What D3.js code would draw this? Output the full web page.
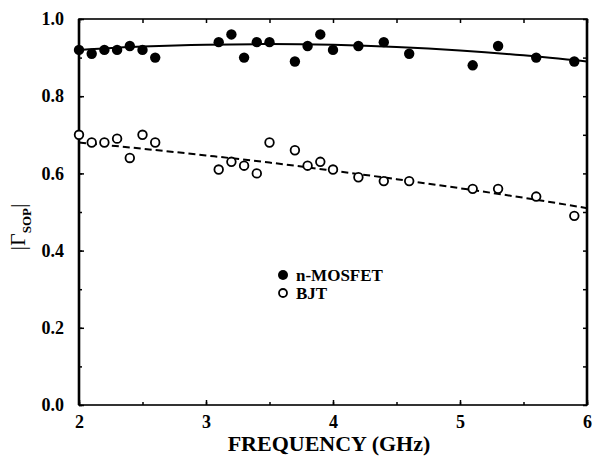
<!DOCTYPE html>
<html>
<head>
<meta charset="utf-8">
<script src="https://cdn.jsdelivr.net/npm/d3@7"></script>
<style>
  html, body { margin: 0; padding: 0; background: #fff; }
  svg { display: block; }
  text { font-family: "Liberation Serif", "Times New Roman", serif; font-weight: bold; fill: #000; }
</style>
</head>
<body>
<svg id="chart" width="592" height="457"></svg>
<script>
// ---- data ----
const freq = [2.0, 2.1, 2.2, 2.3, 2.4, 2.5, 2.6, 3.1, 3.2, 3.3, 3.4, 3.5, 3.7, 3.8, 3.9, 4.0, 4.2, 4.4, 4.6, 5.1, 5.3, 5.6, 5.9];
const mosfet = [0.92, 0.91, 0.92, 0.92, 0.93, 0.92, 0.90, 0.94, 0.96, 0.90, 0.94, 0.94, 0.89, 0.93, 0.96, 0.92, 0.93, 0.94, 0.91, 0.88, 0.93, 0.90, 0.89];
const bjt = [0.70, 0.68, 0.68, 0.69, 0.64, 0.70, 0.68, 0.61, 0.63, 0.62, 0.60, 0.68, 0.66, 0.62, 0.63, 0.61, 0.59, 0.58, 0.58, 0.56, 0.56, 0.54, 0.49];
const fitX = [2.0, 2.5, 3.0, 3.5, 4.0, 4.5, 5.0, 5.5, 6.0];
const mosfetFit = [0.920, 0.9285, 0.9335, 0.935, 0.933, 0.9275, 0.9185, 0.906, 0.890];
const bjtFit = [0.680, 0.664, 0.6465, 0.628, 0.607, 0.585, 0.5615, 0.537, 0.510];
const xTicks = [2, 3, 4, 5, 6];
const yTicks = [0.0, 0.2, 0.4, 0.6, 0.8, 1.0];
const legendLabels = ["n-MOSFET", "BJT"];
const xTitle = "FREQUENCY (GHz)";

// ---- layout ----
const svg = d3.select("#chart");
const L = 79, R = 587, T = 19, B = 405;
const x = d3.scaleLinear().domain([2, 6]).range([L, R]);
const y = d3.scaleLinear().domain([0, 1]).range([B, T]);

const xMinor = d3.range(2, 6.001, 0.5);
const yMinor = d3.range(0, 1.001, 0.1).map(v => +v.toFixed(1));

// bottom axis
const gx = svg.append("g").attr("transform", `translate(0,${B})`)
  .call(d3.axisBottom(x).tickValues(xTicks).tickFormat(d3.format("d")).tickSize(-5).tickPadding(10));
gx.select(".domain").remove();
gx.attr("font-size", null).attr("font-family", null);
gx.selectAll("text").style("font-size", "18px");
svg.append("g").attr("transform", `translate(0,${B})`)
  .call(d3.axisBottom(x).tickValues(xMinor).tickFormat("").tickSize(-3))
  .select(".domain").remove();

// top axis ticks
svg.append("g").attr("transform", `translate(0,${T})`)
  .call(d3.axisTop(x).tickValues(xMinor).tickFormat("").tickSize(-4))
  .select(".domain").remove();

// left axis
const gy = svg.append("g").attr("transform", `translate(${L},0)`)
  .call(d3.axisLeft(y).tickValues(yTicks).tickFormat(d3.format(".1f")).tickSize(-5).tickPadding(15));
gy.select(".domain").remove();
gy.attr("font-size", null).attr("font-family", null);
gy.selectAll("text").style("font-size", "18px");
svg.append("g").attr("transform", `translate(${L},0)`)
  .call(d3.axisLeft(y).tickValues(yMinor).tickFormat("").tickSize(-3))
  .select(".domain").remove();

// right axis ticks
svg.append("g").attr("transform", `translate(${R},0)`)
  .call(d3.axisRight(y).tickValues(yMinor).tickFormat("").tickSize(-4))
  .select(".domain").remove();

svg.selectAll(".tick line").attr("stroke", "#000").attr("stroke-width", 1.5);

// frame
svg.append("rect").attr("x", L).attr("y", T).attr("width", R - L).attr("height", B - T)
  .attr("fill", "none").attr("stroke", "#000").attr("stroke-width", 1.6);
svg.append("line").attr("x1", L).attr("x2", L).attr("y1", T).attr("y2", B).attr("stroke", "#000").attr("stroke-width", 2.6);
svg.append("line").attr("x1", R).attr("x2", R).attr("y1", T).attr("y2", B).attr("stroke", "#000").attr("stroke-width", 2.6);

// fit lines
const line = d3.line().x(d => x(d[0])).y(d => y(d[1])).curve(d3.curveMonotoneX);
svg.append("path").datum(fitX.map((f, i) => [f, mosfetFit[i]]))
  .attr("d", line).attr("fill", "none").attr("stroke", "#000").attr("stroke-width", 2);
svg.append("path").datum(fitX.map((f, i) => [f, bjtFit[i]]))
  .attr("d", line).attr("fill", "none").attr("stroke", "#000").attr("stroke-width", 2)
  .attr("stroke-dasharray", "7,4");

// points
svg.append("g").selectAll("circle").data(freq.map((f, i) => [f, mosfet[i]])).join("circle")
  .attr("cx", d => x(d[0])).attr("cy", d => y(d[1])).attr("r", 5.2).attr("fill", "#000");
svg.append("g").selectAll("circle").data(freq.map((f, i) => [f, bjt[i]])).join("circle")
  .attr("cx", d => x(d[0])).attr("cy", d => y(d[1])).attr("r", 4.3)
  .attr("fill", "#fff").attr("stroke", "#000").attr("stroke-width", 1.8);

// legend
const lg = svg.append("g");
lg.append("circle").attr("cx", 283).attr("cy", 275).attr("r", 5).attr("fill", "#000");
lg.append("circle").attr("cx", 283).attr("cy", 293).attr("r", 4).attr("fill", "#fff").attr("stroke", "#000").attr("stroke-width", 1.8);
lg.append("text").attr("x", 296).attr("y", 281).style("font-size", "17px").text(legendLabels[0]);
lg.append("text").attr("x", 296).attr("y", 299).style("font-size", "17px").text(legendLabels[1]);

// x title
svg.append("text").attr("x", (L + R) / 2 - 4).attr("y", 451).attr("text-anchor", "middle")
  .style("font-size", "22px").text(xTitle);

// y title |Γ_SOP|
const yt = svg.append("text").attr("transform", "translate(25,227) rotate(-90)")
  .attr("text-anchor", "middle").style("font-size", "22px").style("font-weight", "normal");
yt.append("tspan").text("|Γ");
yt.append("tspan").attr("dy", 6).style("font-size", "13px").style("font-weight", "bold").text("SOP");
yt.append("tspan").attr("dy", -6).text("|");
</script>
</body>
</html>
